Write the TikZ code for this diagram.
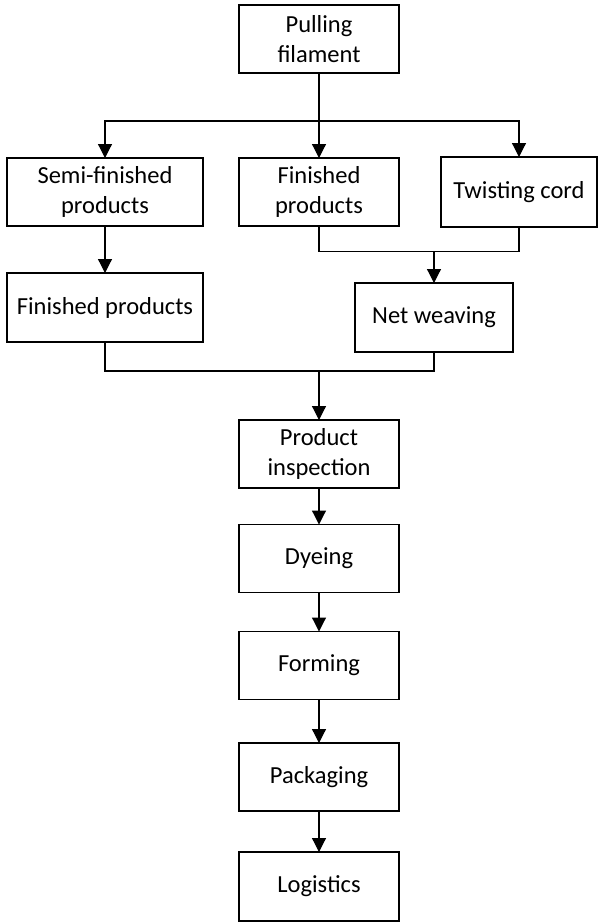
\documentclass[tikz,border=0pt]{standalone}
\usepackage{fontspec}
\setmainfont{Carlito}
\usetikzlibrary{arrows.meta}
\begin{document}
\begin{tikzpicture}[x=1pt,y=-1pt,
  box/.style={draw, line width=1.3pt, align=center, inner sep=0pt, outer sep=0pt,
    font=\fontsize{24.5}{30}\selectfont, minimum height=68pt},
  link/.style={line width=1.2pt},
  arr/.style={link, -{Triangle[width=14pt,length=14pt]}}]
\useasboundingbox (0,0) rectangle (598,922);
% process boxes
\node[box, minimum width=160pt] (pull) at (319,39) {Pulling\\filament};
\node[box, minimum width=196pt] (semi) at (105,192) {Semi-finished\\products};
\node[box, minimum width=160pt] (fin1) at (319,192) {Finished\\products};
\node[box, minimum width=156pt, minimum height=70pt] (twist) at (519,192) {Twisting cord};
\node[box, minimum width=196pt, minimum height=69pt] (fin2) at (105,307.5) {Finished products};
\node[box, minimum width=158pt, minimum height=69pt] (net) at (434,317.5) {Net weaving};
\node[box, minimum width=160pt] (insp) at (319,454) {Product\\inspection};
\node[box, minimum width=160pt] (dye) at (319,558.5) {Dyeing};
\node[box, minimum width=160pt] (form) at (319,665.5) {Forming};
\node[box, minimum width=160pt] (pack) at (319,777) {Packaging};
\node[box, minimum width=160pt, minimum height=69pt] (logi) at (319,886.5) {Logistics};
% junction points
\coordinate (split) at (319,121);
\coordinate (join1) at (434,251.5);
\coordinate (join2) at (319,371);
% branching from the filament
\draw[arr] (pull.south) -- (fin1.north);
\draw[arr] (split) -| (semi.north);
\draw[arr] (split) -| (twist.north);
\draw[arr] (semi.south) -- (fin2.north);
% merge into net weaving
\draw[link] (fin1.south) |- (join1);
\draw[link] (twist.south) |- (join1);
\draw[arr] (join1) -- (net.north);
% merge into inspection
\draw[link] (fin2.south) |- (join2);
\draw[link] (net.south) |- (join2);
\draw[arr] (join2) -- (insp.north);
% main chain
\draw[arr] (insp.south) -- (dye.north);
\draw[arr] (dye.south) -- (form.north);
\draw[arr] (form.south) -- (pack.north);
\draw[arr] (pack.south) -- (logi.north);
\end{tikzpicture}
\end{document}
